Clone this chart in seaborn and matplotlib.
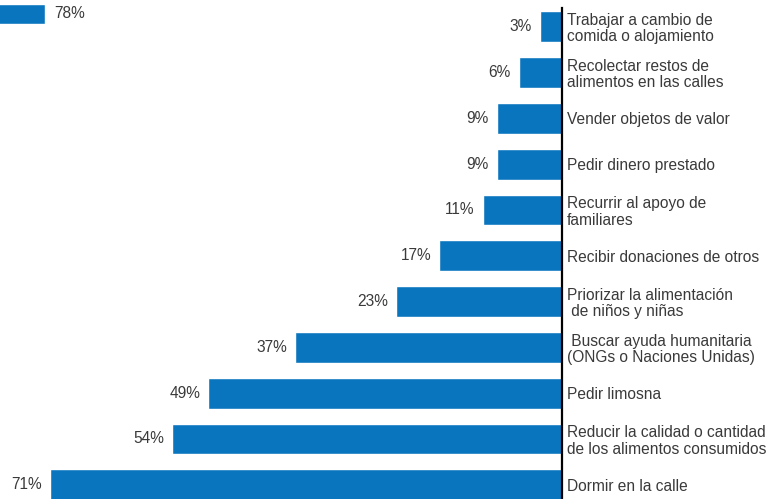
import matplotlib
matplotlib.use("Agg")
import matplotlib.pyplot as plt
import seaborn as sns
import pandas as pd

# Datos
categorias = [
    "Trabajar a cambio de\ncomida o alojamiento",
    "Recolectar restos de\nalimentos en las calles",
    "Vender objetos de valor",
    "Pedir dinero prestado",
    "Recurrir al apoyo de\nfamiliares",
    "Recibir donaciones de otros",
    "Priorizar la alimentación\n de niños y niñas",
    " Buscar ayuda humanitaria\n(ONGs o Naciones Unidas)",
    "Pedir limosna",
    "Reducir la calidad o cantidad\nde los alimentos consumidos",
    "Dormir en la calle",
]
valores = [3, 6, 9, 9, 11, 17, 23, 37, 49, 54, 71]

# barra suelta arriba a la izquierda (recortada)
valor_arriba = [78]

azul = "#0a75bf"
gris = "#3a3a3a"

sns.set_theme(style="white")
plt.rcParams["font.family"] = ["Liberation Sans", "DejaVu Sans"]

df = pd.DataFrame({"estrategia": categorias, "pct": valores})

W, H = 783, 499
fig = plt.figure(figsize=(W / 100, H / 100), dpi=100)

# Grafico principal
ax = fig.add_axes([0, 0, 562 / W, 491 / H])
sns.barplot(data=df, x="pct", y="estrategia", color=azul, width=0.67,
            saturation=1, ax=ax)
ax.set_xlim(77.9, 0)
ax.set_ylim(10.31, -0.41)
ax.set_xlabel("")
ax.set_ylabel("")
ax.set_xticks([])
ax.yaxis.tick_right()
ax.tick_params(axis="y", length=0, pad=3.5, labelsize=11.2, labelcolor=gris)
for lbl in ax.get_yticklabels():
    lbl.set_linespacing(1.1)
    lbl.set_horizontalalignment("left")
for s in ["top", "bottom", "left"]:
    ax.spines[s].set_visible(False)
ax.spines["right"].set_color("black")
ax.spines["right"].set_linewidth(1.6)
ax.bar_label(ax.containers[0], fmt="%d%%", padding=6, fontsize=11.2, color=gris)

# Barra de arriba a la izquierda
ax2 = fig.add_axes([0, 1 - 24 / H, 45 / W, 20 / H])
sns.barplot(x=valor_arriba, y=["x"], color=azul, width=1, saturation=1,
            orient="h", ax=ax2)
ax2.set_xlim(78 - 45 / 7.21, 78)
ax2.set_ylim(0.5, -0.5)
ax2.axis("off")
ax2.bar_label(ax2.containers[0], fmt="%d%%", padding=7, fontsize=11.2,
              color=gris, clip_on=False)

fig.savefig("out.png", dpi=100)
